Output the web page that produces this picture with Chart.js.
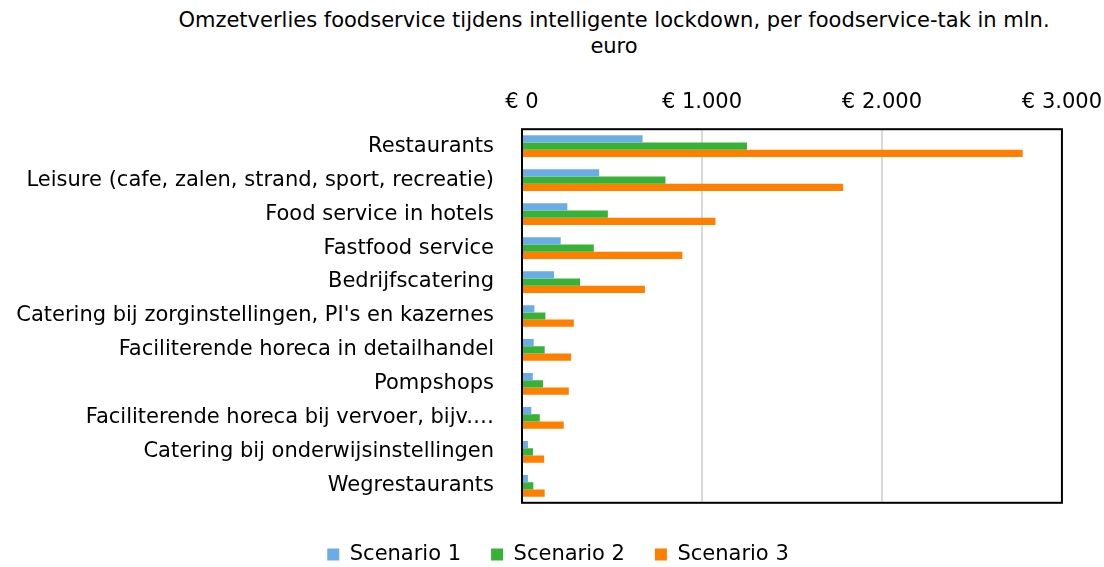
<!DOCTYPE html>
<html>
<head>
<meta charset="utf-8">
<script src="https://cdn.jsdelivr.net/npm/chart.js@4.4.1/dist/chart.umd.min.js"></script>
<style>
  html, body { margin: 0; padding: 0; background: #fff; overflow: hidden; width: 1104px; height: 567px; position: relative; }
  #title { position: absolute; left: 0; top: 7px; width: 1104px; box-sizing: border-box; padding-left: 124px;
    text-align: center; font-family: "DejaVu Sans", Verdana, sans-serif; font-size: 21px; line-height: 26px; color: #000; }
  #wrap { position: absolute; left: 0; top: 74px; width: 1116px; height: 501px; }
</style>
</head>
<body>
<div id="title">Omzetverlies foodservice tijdens intelligente lockdown, per foodservice-tak in mln.<br>euro</div>
<div id="wrap"><canvas id="c"></canvas></div>
<script>
const categories = [
  "Restaurants",
  "Leisure (cafe, zalen, strand, sport, recreatie)",
  "Food service in hotels",
  "Fastfood service",
  "Bedrijfscatering",
  "Catering bij zorginstellingen, PI's en kazernes",
  "Faciliterende horeca in detailhandel",
  "Pompshops",
  "Faciliterende horeca bij vervoer, bijv.…",
  "Catering bij onderwijsinstellingen",
  "Wegrestaurants"
];
const scenario1 = [670, 429, 252, 215, 178, 69, 65, 60, 52, 33, 33];
const scenario2 = [1250, 797, 477, 399, 323, 130, 126, 117, 99, 61, 63];
const scenario3 = [2782, 1784, 1075, 891, 683, 288, 273, 260, 232, 123, 126];
const seriesNames = ["Scenario 1", "Scenario 2", "Scenario 3"];
const tickValues = [0, 1000, 2000, 3000];

const font = "'DejaVu Sans', Verdana, sans-serif";
const fs = 21;
const colors = ["#6AADE4", "#38B236", "#FF7F00"];

const boxPlugin = {
  id: 'box',
  afterDatasetsDraw(chart) {
    const a = chart.chartArea, ctx = chart.ctx;
    ctx.save();
    ctx.strokeStyle = '#000';
    ctx.lineWidth = 2;
    ctx.strokeRect(a.left, a.top, a.right - a.left, a.bottom - a.top);
    ctx.restore();
  }
};

new Chart(document.getElementById('c'), {
  type: 'bar',
  data: {
    labels: categories,
    datasets: [scenario1, scenario2, scenario3].map((d, i) => ({
      label: seriesNames[i],
      data: d,
      backgroundColor: colors[i],
      borderWidth: 0,
      categoryPercentage: 0.64,
      barPercentage: 1.0
    }))
  },
  options: {
    indexAxis: 'y',
    responsive: true,
    maintainAspectRatio: false,
    animation: false,
    layout: { padding: { left: 0, right: 0, top: 2, bottom: 0 } },
    scales: {
      x: {
        position: 'top',
        min: 0, max: 3000,
        afterBuildTicks: s => { s.ticks = tickValues.map(v => ({ value: v })); },
        ticks: {
          color: '#000',
          font: { family: font, size: fs },
          padding: 14,
          maxRotation: 0,
          callback: v => '€ ' + String(v).replace(/\B(?=(\d{3})+(?!\d))/g, '.')
        },
        grid: { color: '#d9d9d9', lineWidth: 2, drawTicks: false },
        border: { display: false }
      },
      y: {
        afterFit: s => { s.width = 522; },
        ticks: { color: '#000', font: { family: font, size: fs }, padding: 20, autoSkip: false },
        grid: { display: false },
        border: { display: false }
      }
    },
    plugins: {
      legend: {
        position: 'bottom',
        title: { display: true, text: ' ', font: { size: 1 }, padding: { top: 0, bottom: 10 } },
        labels: {
          color: '#000',
          font: { family: font, size: fs },
          boxWidth: 12, boxHeight: 12,
          padding: 30
        }
      },
      title: { display: false },
      tooltip: { enabled: false }
    }
  },
  plugins: [boxPlugin]
});
</script>
</body>
</html>
